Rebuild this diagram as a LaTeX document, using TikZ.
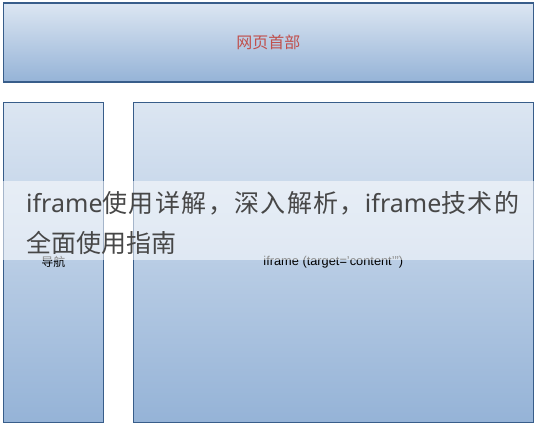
\documentclass[tikz,border=0pt]{standalone}
\usepackage{fontspec}
\setmainfont{Liberation Sans}
\newfontfamily\cjk{Noto Sans CJK SC}
\newfontfamily\cjkwide[LetterSpace=5.5]{Noto Sans CJK SC}
\newfontfamily\latn{Noto Sans}
\definecolor{boxtop}{HTML}{DCE6F2}
\definecolor{boxbot}{HTML}{95B3D7}
\definecolor{boxline}{HTML}{385D8A}
\definecolor{headred}{HTML}{C0504D}
\definecolor{bandtext}{HTML}{474747}
\begin{document}
\begin{tikzpicture}[x=1pt,y=-1pt,
  panel/.style={draw=boxline, line width=1.1pt, top color=boxtop, bottom color=boxbot,
    rectangle, inner sep=0pt, outer sep=0pt},
  bandline/.style={anchor=base west, inner sep=0pt, text=bandtext,
    font=\cjk\fontsize{25}{30}\selectfont}
]
\useasboundingbox (0,0) rectangle (543,428);
\node[panel, minimum width=530pt, minimum height=79pt, text=headred,
  font=\cjk\fontsize{16}{18}\selectfont] (head) at (268.3,42.5) {\raisebox{1pt}{网页首部}};
\node[panel, minimum width=100pt, minimum height=320pt,
  font=\cjk\fontsize{12}{14}\selectfont] (nav) at (53.3,262.3) {\raisebox{-2pt}{导航}};
\node[panel, minimum width=400pt, minimum height=320pt,
  font=\fontsize{12.8}{14}\selectfont] (content) at (333.3,262.3) {\raisebox{-3pt}{iframe (target='content'")}};
\fill[white, opacity=0.55] (0,181) rectangle (543,260);
\node[bandline] (t1) at (26,212) {{\latn iframe}{\cjkwide 使用详解，深入解析，}{\latn iframe}{\cjkwide 技术的}};
\node[bandline] (t2) at (26,252) {全面使用指南};
\end{tikzpicture}
\end{document}
